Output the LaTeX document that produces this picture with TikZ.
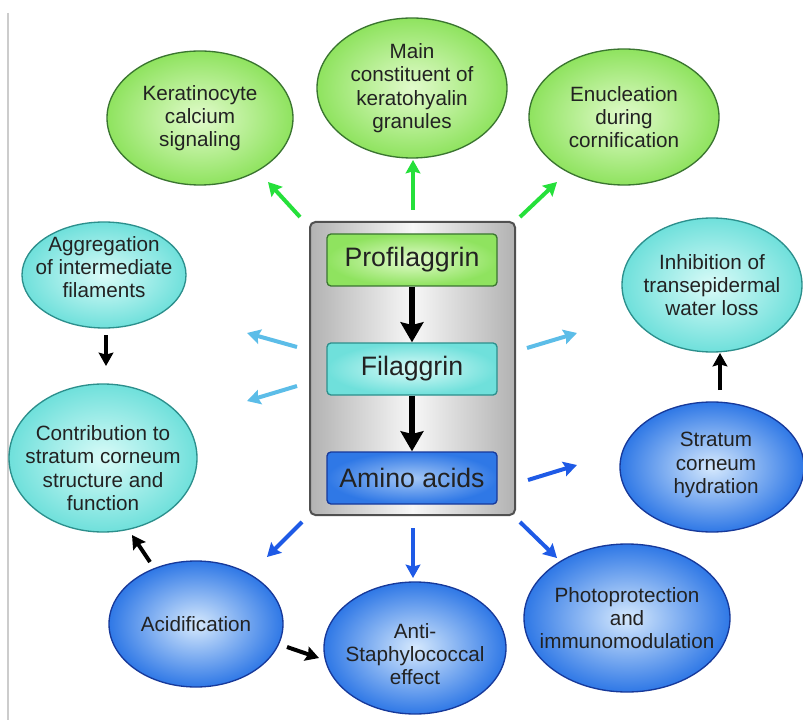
\documentclass[tikz,border=0pt]{standalone}
\usepackage{fontspec}
\setmainfont{Liberation Sans}
\usetikzlibrary{arrows.meta,shapes.geometric}
\definecolor{gout}{HTML}{8FE35F}
\definecolor{gin}{HTML}{E2FBCC}
\definecolor{gbrd}{HTML}{3A7530}
\definecolor{cout}{HTML}{6FE0DB}
\definecolor{cin}{HTML}{DAFBF8}
\definecolor{cbrd}{HTML}{2C8F8C}
\definecolor{bout}{HTML}{2F78E6}
\definecolor{bin}{HTML}{D6E9FD}
\definecolor{bbrd}{HTML}{17399A}
\definecolor{garr}{HTML}{25E03A}
\definecolor{larr}{HTML}{5CBDE8}
\definecolor{barr}{HTML}{1E5AE6}
\definecolor{txtc}{HTML}{222222}
\definecolor{boxside}{HTML}{B2B2B2}
\definecolor{boxmid}{HTML}{F7F7F7}
\definecolor{boxbrd}{HTML}{505050}
\definecolor{edgeline}{HTML}{CCCCCC}
\tikzset{
  ell/.style={ellipse, inner sep=0pt, line width=1pt},
  greenell/.style={ell, draw=gbrd, inner color=gin, outer color=gout},
  cyanell/.style={ell, draw=cbrd, inner color=cin, outer color=cout},
  blueell/.style={ell, draw=bbrd, inner color=bin, outer color=bout},
  lbl/.style={align=center, text=txtc, font=\fontsize{15.5pt}{17.5pt}\selectfont, inner sep=0pt},
  stepbox/.style={rectangle, rounded corners=3pt, line width=1pt, minimum width=127.5pt, minimum height=39pt, text=txtc, font=\fontsize{20pt}{24pt}\selectfont},
  arr/.style={line width=3pt, -{Stealth[length=10pt,width=11pt,inset=1.5pt]}},
  bigarr/.style={line width=5pt, -{Stealth[length=15pt,width=17pt,inset=2pt]}, black},
}
\begin{document}
\begin{tikzpicture}[x=0.75pt,y=-0.75pt]
\useasboundingbox (0,0) rectangle (803,720);
\fill[white] (0,0) rectangle (803,720);
\draw[edgeline, line width=0.8pt] (8,13) -- (8,720);

% central box
\node[rectangle, rounded corners=4pt, draw=boxbrd, line width=1.5pt, left color=boxside, right color=boxside, middle color=boxmid, minimum width=153.75pt, minimum height=219.75pt] (cbox) at (412.5,368.5) {};
\node[stepbox, draw=gbrd, inner color=gin, outer color=gout] (pro) at (412,260) {Profilaggrin};
\node[stepbox, draw=cbrd, inner color=cin, outer color=cout] (fil) at (412,369) {Filaggrin};
\node[stepbox, draw=bbrd, inner color=bin!70!bout, outer color=bout] (ami) at (412,478) {Amino acids};
\draw[bigarr] (pro) -- (fil);
\draw[bigarr] (fil) -- (ami);

% ellipses
\node[greenell, minimum width=139.5pt, minimum height=100.5pt] (ker) at (200,118) {};
\node[lbl] at (ker) {Keratinocyte\\calcium\\signaling};
\node[greenell, minimum width=142.5pt, minimum height=105pt] (mai) at (412,88) {};
\node[lbl] at (mai) {Main\\constituent of\\keratohyalin\\granules};
\node[greenell, minimum width=142.5pt, minimum height=102pt] (enu) at (624,117) {};
\node[lbl] at (enu) {Enucleation\\during\\cornification};
\node[cyanell, minimum width=123pt, minimum height=79.5pt] (agg) at (104,275) {};
\node[lbl] at (104,267) {Aggregation\\of intermediate\\filaments};
\node[cyanell, minimum width=141pt, minimum height=111pt] (con) at (103,458) {};
\node[lbl] at (103,468) {Contribution to\\stratum corneum\\structure and\\function};
\node[cyanell, minimum width=135pt, minimum height=100.5pt] (inh) at (712,285) {};
\node[lbl] at (inh) {Inhibition of\\transepidermal\\water loss};
\node[blueell, minimum width=138pt, minimum height=97.5pt] (hyd) at (712,467) {};
\node[lbl] at (716,465) {Stratum\\corneum\\hydration};
\node[blueell, minimum width=130.5pt, minimum height=94.5pt] (aci) at (196,624) {};
\node[lbl] at (aci) {Acidification};
\node[blueell, minimum width=136.5pt, minimum height=99pt] (ant) at (415,648) {};
\node[lbl] at (415,654) {Anti-\\Staphylococcal\\effect};
\node[blueell, minimum width=154.5pt, minimum height=111pt] (pho) at (627,618) {};
\node[lbl] at (pho) {Photoprotection\\and\\immunomodulation};

% arrow end points
\coordinate (g1a) at (300,217); \coordinate (g1b) at (268,182);
\coordinate (g2a) at (413,210); \coordinate (g2b) at (413,160);
\coordinate (g3a) at (520,217); \coordinate (g3b) at (557,182);
\coordinate (l1a) at (297,347); \coordinate (l1b) at (247,333);
\coordinate (l2a) at (297,386); \coordinate (l2b) at (247,401);
\coordinate (l3a) at (527,348); \coordinate (l3b) at (577,333);
\coordinate (b1a) at (528,480); \coordinate (b1b) at (577,465);
\coordinate (b2a) at (302,522); \coordinate (b2b) at (267,557);
\coordinate (b3a) at (413,528); \coordinate (b3b) at (413,578);
\coordinate (b4a) at (520,522); \coordinate (b4b) at (557,558);
\coordinate (k1a) at (106,335); \coordinate (k1b) at (106,366);
\coordinate (k2a) at (720,390); \coordinate (k2b) at (720,353);
\coordinate (k3a) at (150,562); \coordinate (k3b) at (132,535);
\coordinate (k4a) at (287,647); \coordinate (k4b) at (319,658);

\draw[arr, garr] (g1a) -- (g1b);
\draw[arr, garr] (g2a) -- (g2b);
\draw[arr, garr] (g3a) -- (g3b);
\draw[arr, larr] (l1a) -- (l1b);
\draw[arr, larr] (l2a) -- (l2b);
\draw[arr, larr] (l3a) -- (l3b);
\draw[arr, barr] (b1a) -- (b1b);
\draw[arr, barr] (b2a) -- (b2b);
\draw[arr, barr] (b3a) -- (b3b);
\draw[arr, barr] (b4a) -- (b4b);
\draw[arr, black] (k1a) -- (k1b);
\draw[arr, black] (k2a) -- (k2b);
\draw[arr, black] (k3a) -- (k3b);
\draw[arr, black] (k4a) -- (k4b);
\end{tikzpicture}
\end{document}
